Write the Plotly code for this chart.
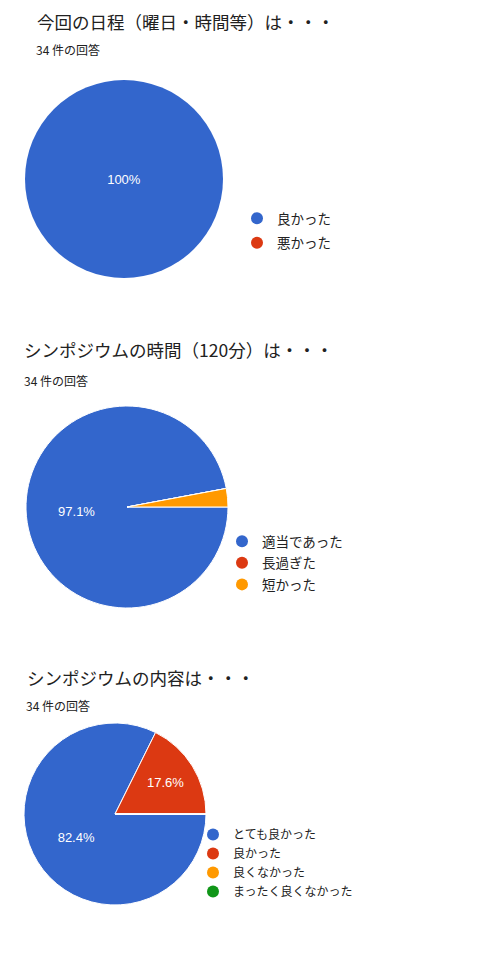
import plotly.graph_objects as go

# page body has an 8px margin, so the figure is 8px smaller than the window
OFF = 8
W, H = 481 - OFF, 959 - OFF

# ---- data ----
titles = ["今回の日程（曜日・時間等）は・・・",
          "シンポジウムの時間（120分）は・・・",
          "シンポジウムの内容は・・・"]
subtitles = ["34 件の回答", "34 件の回答", "34 件の回答"]

labels1 = ["良かった", "悪かった"]
values1 = [34, 0]

labels2 = ["適当であった", "長過ぎた", "短かった"]
values2 = [33, 0, 1]

labels3 = ["とても良かった", "良かった", "良くなかった", "まったく良くなかった"]
values3 = [28, 6, 0, 0]

colors = ["#3366cc", "#dc3912", "#ff9900", "#109618"]

JP = "Noto Sans CJK JP"
NUM = "Liberation Sans, Arial"

def px_x(v):
    return (v - OFF) / W

def px_y(v):
    return 1 - (v - OFF) / H

# layout per chart (pixels in the reference window)
charts = [
    dict(labels=labels1, values=values1, box=(25, 223, 80, 278), line=0,
         tmpl=["%{percent:.0%}", ""], legend="legend",
         leg_x=237, leg_top=203, leg_font=13.5, gap=4, msize=13,
         title_xy=(35, 21), sub_xy=(34, 50)),
    dict(labels=labels2, values=values2, box=(26, 228, 406, 608), line=1,
         tmpl=["%{percent:.1%}", "", ""], legend="legend2",
         leg_x=222, leg_top=526, leg_font=13.5, gap=1, msize=13,
         title_xy=(22, 349), sub_xy=(22, 380)),
    dict(labels=labels3, values=values3, box=(24, 206, 723, 905), line=1,
         tmpl=["%{percent:.1%}", "%{percent:.1%}", "", ""], legend="legend3",
         leg_x=193, leg_top=820, leg_font=12, gap=0, msize=11,
         title_xy=(25, 677), sub_xy=(24, 705)),
]

fig = go.Figure()
annotations = []
legends = {}

for i, c in enumerate(charts):
    x0, x1, y0, y1 = c["box"]
    fig.add_trace(go.Pie(
        labels=c["labels"], values=c["values"],
        marker=dict(colors=colors[:len(c["labels"])],
                    line=dict(color="white", width=c["line"])),
        sort=False, direction="clockwise", rotation=90,
        texttemplate=c["tmpl"], textposition="inside",
        insidetextorientation="horizontal",
        textfont=dict(family=NUM, size=13, color="white"),
        domain=dict(x=[px_x(x0), px_x(x1)], y=[px_y(y1), px_y(y0)]),
        showlegend=False, hoverinfo="label+percent",
    ))
    for j, lab in enumerate(c["labels"]):
        fig.add_trace(go.Scatter(
            x=[None], y=[None], mode="markers", name=lab,
            marker=dict(symbol="circle", size=c["msize"], color=colors[j]),
            legend=c["legend"], legendgroup=f"{c['legend']}_{j}",
            showlegend=True,
        ))
    legends[c["legend"]] = dict(
        x=px_x(c["leg_x"]), xanchor="left",
        y=px_y(c["leg_top"]), yanchor="top",
        bgcolor="rgba(0,0,0,0)",
        font=dict(family=JP, size=c["leg_font"], color="#222222"),
        traceorder="grouped", tracegroupgap=c["gap"],
        itemsizing="constant",
    )
    tx, ty = c["title_xy"]
    annotations.append(dict(
        text=titles[i], x=px_x(tx), y=px_y(ty), xref="paper", yref="paper",
        xanchor="left", yanchor="middle", showarrow=False,
        font=dict(family=JP, size=17.5, color="#212121"),
    ))
    sx, sy = c["sub_xy"]
    annotations.append(dict(
        text=subtitles[i], x=px_x(sx), y=px_y(sy), xref="paper", yref="paper",
        xanchor="left", yanchor="middle", showarrow=False,
        font=dict(family=JP, size=12, color="#212121"),
    ))

fig.update_layout(
    width=W, height=H,
    margin=dict(l=0, r=0, t=0, b=0),
    paper_bgcolor="white", plot_bgcolor="white",
    xaxis=dict(visible=False), yaxis=dict(visible=False),
    annotations=annotations,
    **legends,
)

fig.write_html("out.html")
